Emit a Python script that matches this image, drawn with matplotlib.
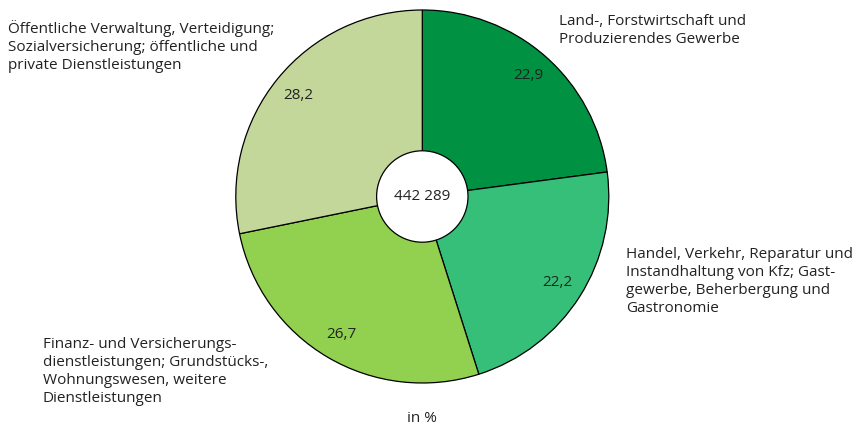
import matplotlib.pyplot as plt

W, H = 857, 425

shares = [22.9, 22.2, 26.7, 28.2]
share_labels = ["22,9", "22,2", "26,7", "28,2"]
colors = ["#009142", "#35bf78", "#92d050", "#c4d79b"]
categories = [
    "Land-, Forstwirtschaft und\nProduzierendes Gewerbe",
    "Handel, Verkehr, Reparatur und\nInstandhaltung von Kfz; Gast-\ngewerbe, Beherbergung und\nGastronomie",
    "Finanz- und Versicherungs-\ndienstleistungen; Grundstücks-,\nWohnungswesen, weitere\nDienstleistungen",
    "Öffentliche Verwaltung, Verteidigung;\nSozialversicherung; öffentliche und\nprivate Dienstleistungen",
]
total_label = "442 289"
unit_label = "in %"

plt.rcParams["font.family"] = ["Open Sans", "DejaVu Sans"]
fs = 11

fig = plt.figure(figsize=(W / 100, H / 100), dpi=100)
ax = fig.add_axes([0, 0, 1, 1])

cx, cy, r = 422.3, H - 196.5, 186.5

wedges, texts = ax.pie(
    shares, colors=colors, labels=share_labels, startangle=90, counterclock=False,
    center=(cx, cy), radius=r, labeldistance=0.86, frame=True,
    wedgeprops=dict(edgecolor="black", linewidth=0.9),
    textprops=dict(fontsize=fs, color="#222222", ha="center", va="center"),
)
ax.set_xlim(0, W)
ax.set_ylim(0, H)
ax.set_aspect("equal")
ax.axis("off")

hole = plt.Circle((cx, cy), 45.7, facecolor="white", edgecolor="black", linewidth=0.9, zorder=5)
ax.add_patch(hole)
ax.text(cx, cy, total_label, fontsize=fs, ha="center", va="center", color="#222222", zorder=6)

# category labels: left x and baseline of the last line, pixels from top
pos = [(559, 43), (626, 312), (43, 402), (8, 69)]
for (x, yb), txt in zip(pos, categories):
    ax.text(x, H - yb, txt, fontsize=fs, ha="left", va="baseline", linespacing=1.27, color="#222222")

ax.text(cx, H - 418, unit_label, fontsize=fs, ha="center", va="center", color="#222222")

fig.savefig("out.png", dpi=100)
